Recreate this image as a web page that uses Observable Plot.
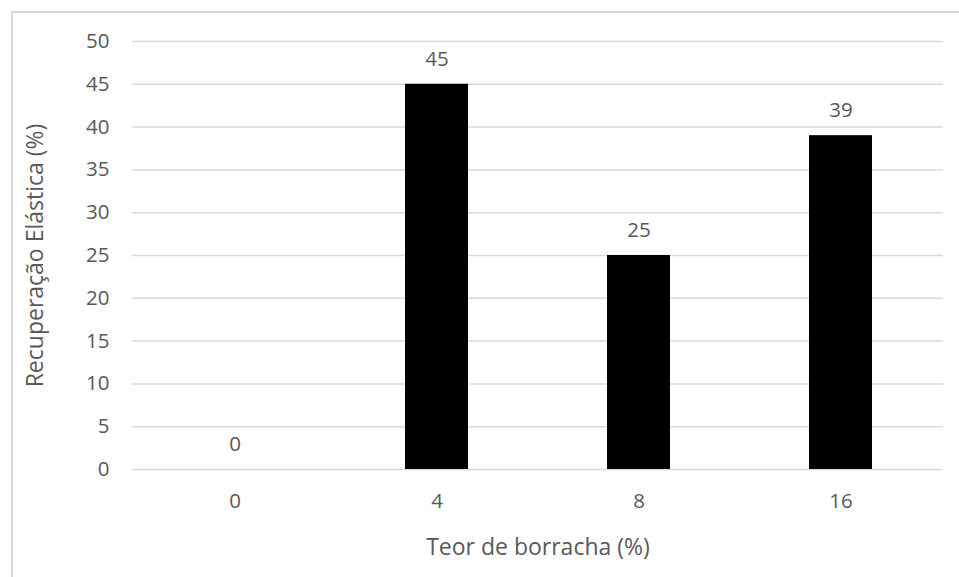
<!DOCTYPE html>
<html>
<head>
<meta charset="utf-8">
<script src="https://cdn.jsdelivr.net/npm/d3@7"></script>
<script src="https://cdn.jsdelivr.net/npm/@observablehq/plot@0.6"></script>
<style>
  html, body { margin: 0; padding: 0; background: #fff; }
  #wrap { position: relative; width: 959px; height: 577px; overflow: hidden; }
  #border { position: absolute; left: 11px; top: 11px; width: 1000px; height: 1000px;
            border-left: 2px solid #d9d9d9; border-top: 2px solid #d9d9d9; box-sizing: border-box; }
  #chart { position: absolute; left: 0; top: 0; }
</style>
</head>
<body>
<div id="wrap"><div id="border"></div><div id="chart"></div></div>
<script>
const categories = ["0", "4", "8", "16"];
const values = [0, 45, 25, 39];
const yTicks = [0, 5, 10, 15, 20, 25, 30, 35, 40, 45, 50];
const xTitle = "Teor de borracha (%)";
const yTitle = "Recuperação Elástica (%)";

const data = categories.map((c, i) => ({ cat: c, v: values[i] }));
const textColor = "#595959";

const chart = Plot.plot({
  width: 959,
  height: 577,
  marginLeft: 132,
  marginRight: 16,
  marginTop: 41,
  marginBottom: 108,
  style: { fontFamily: "'Open Sans', sans-serif", fontSize: "20px", color: textColor, background: "transparent" },
  x: { domain: categories, paddingInner: 0.69, paddingOuter: 0.345, label: null },
  y: { domain: [0, 50], label: null },
  marks: [
    Plot.gridY(yTicks, { stroke: "#d9d9d9", strokeOpacity: 1, strokeWidth: 1.5 }),
    Plot.barY(data, { x: "cat", y: "v", fill: "#000" }),
    Plot.text(data, { x: "cat", y: "v", text: d => String(d.v), dy: -25, lineAnchor: "middle", fill: textColor, fontSize: 20.5 }),
    Plot.axisY(yTicks, { tickSize: 0, tickPadding: 23, fontSize: 20.5, fill: textColor, label: null }),
    Plot.axisX({ tickSize: 0, tickPadding: 24, fontSize: 20.5, fill: textColor, label: null }),
    Plot.text([xTitle], { frameAnchor: "bottom", dy: 78, lineAnchor: "middle", textAnchor: "middle", fill: textColor, fontSize: 23 }),
    Plot.text([yTitle], { frameAnchor: "left", dx: -97, rotate: -90, lineAnchor: "middle", textAnchor: "middle", fill: textColor, fontSize: 23 })
  ]
});
document.getElementById("chart").appendChild(chart);
</script>
</body>
</html>
